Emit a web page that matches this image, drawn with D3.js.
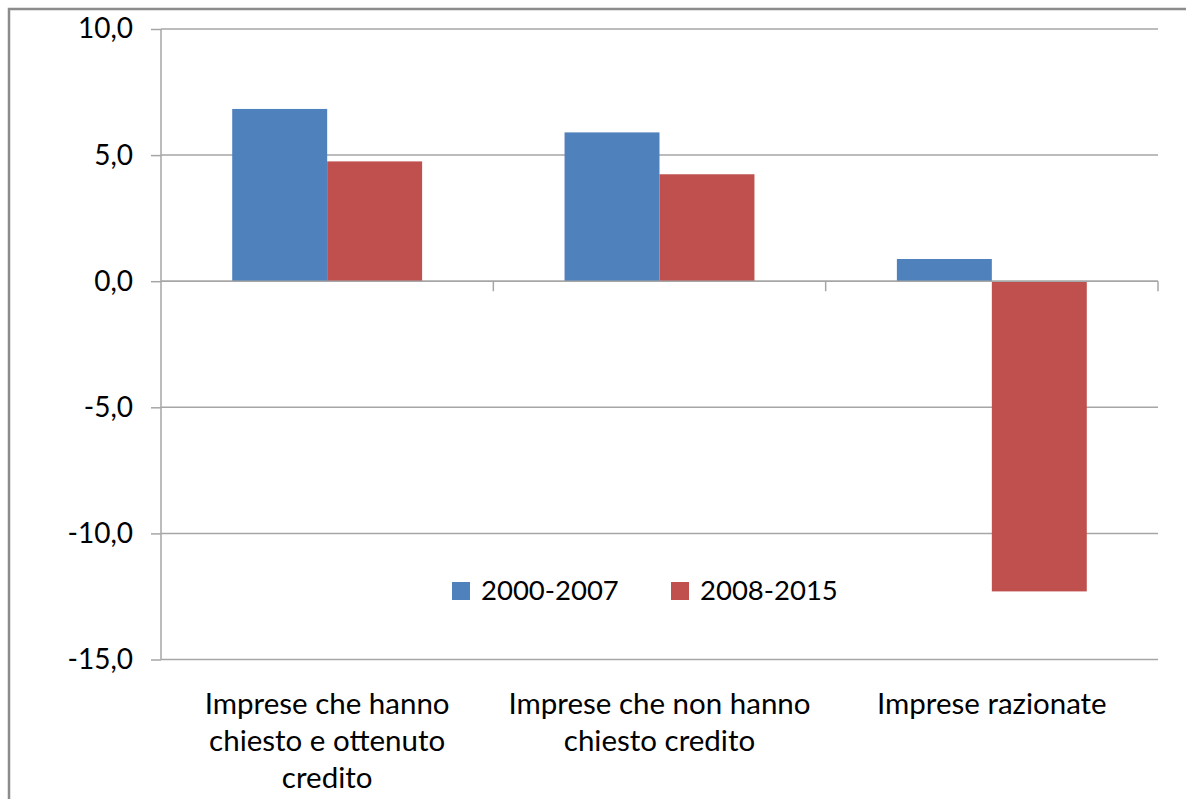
<!DOCTYPE html>
<html>
<head>
<meta charset="utf-8">
<script src="https://cdn.jsdelivr.net/npm/d3@7"></script>
<style>
  html, body { margin: 0; padding: 0; background: #fff; }
  svg { display: block; }
  text { font-family: Lato, "Open Sans", sans-serif; fill: #000; }
</style>
</head>
<body>
<svg id="chart" width="1186" height="799"></svg>
<script>
// Categories (label lines) and series values
const categories = [
  "Imprese che hanno chiesto e ottenuto credito",
  "Imprese che non hanno chiesto credito",
  "Imprese razionate"
];
const categoryLines = [
  ["Imprese che hanno", "chiesto e ottenuto", "credito"],
  ["Imprese che non hanno", "chiesto credito"],
  ["Imprese razionate"]
];
const seriesNames = ["2000-2007", "2008-2015"];
const values2000_2007 = [6.83, 5.90, 0.88];
const values2008_2015 = [4.75, 4.24, -12.30];
const yTicks = [10, 5, 0, -5, -10, -15];
const colors = ["#4F81BD", "#C0504D"];

const seriesValues = [values2000_2007, values2008_2015];
const data = categories.map((c, i) => ({
  category: c,
  lines: categoryLines[i],
  values: seriesNames.map((s, j) => ({ series: s, value: seriesValues[j][i] }))
}));

const svg = d3.select("#chart");
const plot = { left: 161, right: 1158, top: 29, bottom: 659.5 };

// Outer frame of the chart area
svg.append("path")
  .attr("d", `M9,799 L9,9 L1186,9`)
  .attr("fill", "none")
  .attr("stroke", "#8c8c8c")
  .attr("stroke-width", 2.5);

const y = d3.scaleLinear().domain([-15, 10]).range([plot.bottom, plot.top]);
const x0 = d3.scaleBand().domain(categories).range([plot.left, plot.right]).padding(0);
const x1 = d3.scaleBand().domain(seriesNames).range([0, x0.bandwidth()])
  .paddingInner(0).paddingOuter(0.75);

const gridColor = "#a6a6a6";

// Horizontal gridlines
svg.append("g")
  .selectAll("line")
  .data(yTicks)
  .join("line")
  .attr("x1", plot.left).attr("x2", plot.right)
  .attr("y1", d => y(d)).attr("y2", d => y(d))
  .attr("stroke", gridColor)
  .attr("stroke-width", 1.5);

// Y axis
const yAxis = d3.axisLeft(y)
  .tickValues(yTicks)
  .tickSize(10)
  .tickPadding(18)
  .tickFormat(d => d3.format(".1f")(d).replace(".", ",").replace("−", "-"));

const yg = svg.append("g")
  .attr("transform", `translate(${plot.left},0)`)
  .call(yAxis);
yg.select(".domain").attr("stroke", gridColor).attr("stroke-width", 1.5)
  .attr("d", `M0,${plot.top}V${plot.bottom}`);
yg.selectAll(".tick line").attr("stroke", gridColor).attr("stroke-width", 1.5);
yg.selectAll(".tick text")
  .attr("font-size", 28)
  .attr("font-family", "Lato, 'Open Sans', sans-serif")
  .attr("fill", "#000");

// Bars
const groups = svg.append("g")
  .selectAll("g")
  .data(data)
  .join("g")
  .attr("transform", d => `translate(${x0(d.category)},0)`);

groups.selectAll("rect")
  .data(d => d.values)
  .join("rect")
  .attr("x", d => x1(d.series))
  .attr("width", x1.bandwidth())
  .attr("y", d => y(Math.max(0, d.value)))
  .attr("height", d => Math.abs(y(d.value) - y(0)))
  .attr("fill", (d, i) => colors[i]);

// Category axis along zero
const xAxis = d3.axisBottom(x0).tickSize(0).tickFormat("");
const xg = svg.append("g")
  .attr("transform", `translate(0,${y(0)})`)
  .call(xAxis);
xg.select(".domain").attr("stroke", gridColor).attr("stroke-width", 1.5)
  .attr("d", `M${plot.left},0H${plot.right}`);

// Category separators on the zero line, pointing down
const boundaries = categories.map(c => x0(c) + x0.bandwidth());
svg.append("g")
  .selectAll("line")
  .data(boundaries)
  .join("line")
  .attr("x1", d => d).attr("x2", d => d)
  .attr("y1", y(0)).attr("y2", y(0) + 10)
  .attr("stroke", gridColor)
  .attr("stroke-width", 1.5);

// Category labels below the plot
const labels = svg.append("g")
  .selectAll("text")
  .data(data)
  .join("text")
  .attr("text-anchor", "middle")
  .attr("font-size", 29.5)
  .attr("x", d => x0(d.category) + x0.bandwidth() / 2)
  .attr("y", 714);
labels.selectAll("tspan")
  .data(d => d.lines.map(l => ({ l, cx: x0(d.category) + x0.bandwidth() / 2 })))
  .join("tspan")
  .attr("x", d => d.cx)
  .attr("dy", (d, i) => i === 0 ? 0 : 37)
  .text(d => d.l);

// Legend
const legendItems = [
  { name: seriesNames[0], color: colors[0], x: 452 },
  { name: seriesNames[1], color: colors[1], x: 671 }
];
const lg = svg.append("g")
  .selectAll("g")
  .data(legendItems)
  .join("g")
  .attr("transform", d => `translate(${d.x},582)`);
lg.append("rect")
  .attr("width", 18).attr("height", 18)
  .attr("fill", d => d.color);
lg.append("text")
  .attr("x", 29).attr("y", 18)
  .attr("font-size", 27.5)
  .text(d => d.name);
</script>
</body>
</html>
